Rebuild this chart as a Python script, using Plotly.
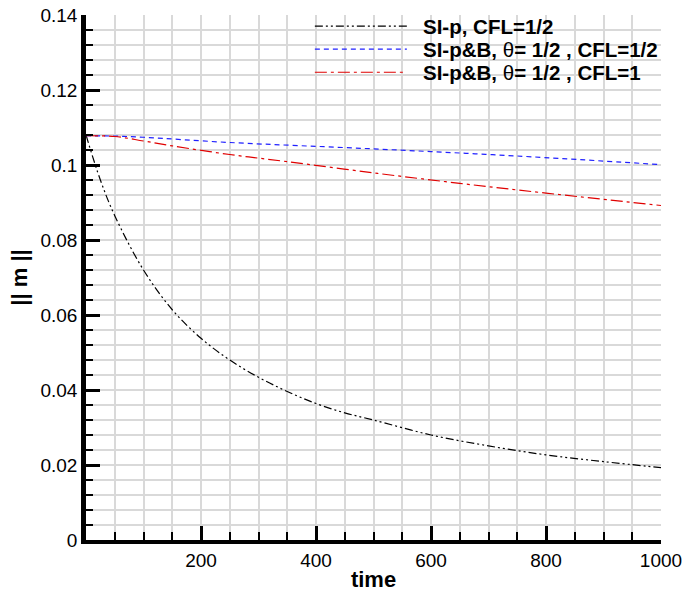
import plotly.graph_objects as go

# data
t_sip = [0, 25, 50, 100, 150, 200, 250, 300, 350, 400, 450, 500, 600, 700, 800, 900, 1000]
m_sip = [0.108, 0.096, 0.0865, 0.072, 0.0614, 0.0538, 0.048, 0.0434, 0.0396, 0.0364,
         0.0339, 0.032, 0.028, 0.0251, 0.0227, 0.0209, 0.0193]

t_spb_half = [0, 50, 100, 250, 500, 750, 1000]
m_spb_half = [0.1078, 0.1077, 0.1074, 0.106, 0.1043, 0.1024, 0.1001]

t_spb_one = [0, 50, 100, 150, 250, 350, 500, 650, 800, 1000]
m_spb_one = [0.1078, 0.1076, 0.1064, 0.1051, 0.1028, 0.1009, 0.0979, 0.0951, 0.0925, 0.0892]

x_ticks = [200, 400, 600, 800, 1000]
y_ticks = [0, 0.02, 0.04, 0.06, 0.08, 0.1, 0.12, 0.14]
y_labels = ["0", "0.02", "0.04", "0.06", "0.08", "0.1", "0.12", "0.14"]

names = ["<b>SI-p, CFL=1/2</b>",
         "<b>SI-p&B, </b>θ<b>= 1/2 , CFL=1/2</b>",
         "<b>SI-p&B, </b>θ<b>= 1/2 , CFL=1</b>"]
colors = ["#000000", "#2020ff", "#e00000"]
dashes = ["8px,3px,2px,3px,2px,3px", "5px,4px", "12px,4px,3px,4px"]

fig = go.Figure()
for tt, mm, nm, c, d in zip([t_sip, t_spb_half, t_spb_one],
                            [m_sip, m_spb_half, m_spb_one], names, colors, dashes):
    fig.add_trace(go.Scatter(x=tt, y=mm, mode="lines", name=nm, showlegend=False,
                             line=dict(color=c, width=1.2, dash=d, shape="spline")))

# manual legend (long line samples as in the reference)
leg_y = [0.979, 0.935, 0.891]
for nm, c, d, yy in zip(names, colors, dashes, leg_y):
    fig.add_shape(type="line", xref="paper", yref="paper", x0=0.398, x1=0.558, y0=yy, y1=yy,
                  line=dict(color=c, width=1.2, dash=d))
    fig.add_annotation(xref="paper", yref="paper", x=0.583, y=yy, text=nm, showarrow=False,
                       xanchor="left", yanchor="middle",
                       font=dict(family="Liberation Sans, Arial", size=20.5, color="black"))

axis_common = dict(
    showline=True, linecolor="black", mirror=False,
    ticks="inside", tickcolor="black", tickwidth=3, ticklen=14,
    showgrid=True, gridcolor="#d9d9d9", gridwidth=1.5,
    zeroline=False, automargin=False,
    tickfont=dict(family="Liberation Sans, Arial", size=19, color="black"),
)

fig.update_xaxes(**axis_common, range=[0, 1000], linewidth=3.5,
                 tickvals=x_ticks,
                 minor=dict(dtick=50, tick0=0, ticks="inside", ticklen=8, tickwidth=2,
                            tickcolor="black", showgrid=True, gridcolor="#d9d9d9", gridwidth=1.5),
                 title=dict(text="<b>time</b>", standoff=4,
                            font=dict(family="Liberation Sans, Arial", size=22, color="black")))
fig.update_yaxes(**axis_common, range=[0, 0.14], linewidth=4.5,
                 tickvals=y_ticks, ticktext=y_labels,
                 minor=dict(dtick=0.004, tick0=0, ticks="inside", ticklen=7, tickwidth=2,
                            tickcolor="black", showgrid=True, gridcolor="#d9d9d9", gridwidth=1.5),
                 title=dict(text="<b>|| m ||</b>", standoff=8,
                            font=dict(family="Liberation Sans, Arial", size=22, color="black")))

fig.update_layout(width=685, height=592, paper_bgcolor="white", plot_bgcolor="white",
                  margin=dict(l=86, r=24, t=15, b=52, autoexpand=False), showlegend=False)

fig.write_html("out.html")
